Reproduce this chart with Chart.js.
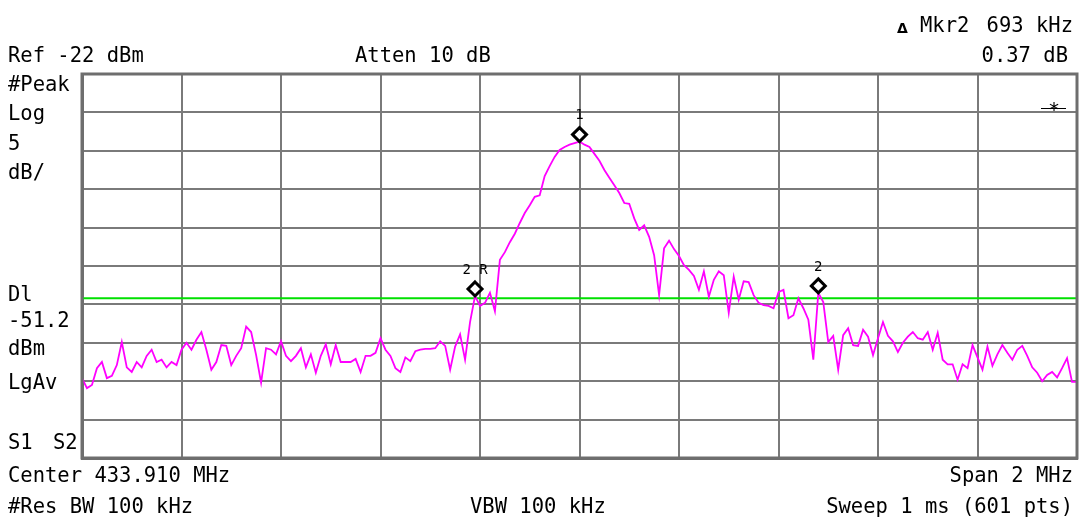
<!DOCTYPE html>
<html>
<head>
<meta charset="utf-8">
<script src="https://cdn.jsdelivr.net/npm/chart.js@4/dist/chart.umd.min.js"></script>
<style>
  html, body { margin: 0; padding: 0; background: #fff; }
  #wrap { position: relative; width: 1079px; height: 518px; overflow: hidden; }
  #sa { position: absolute; left: 0; top: 0; }
  .t { position: absolute; font-family: "DejaVu Sans Mono", monospace; font-size: 20.5px;
       line-height: 20px; color: #000; white-space: pre; }
</style>
</head>
<body>
<div id="wrap">
  <canvas id="sa" width="1079" height="518"></canvas>
  <div class="t" style="left:897px;top:18px;font-family:'DejaVu Sans';font-weight:bold;font-size:14px;">Δ</div>
  <div class="t" style="left:920px;top:15px;">Mkr2</div>
  <div class="t" style="right:6px;top:15px;">693 kHz</div>
  <div class="t" style="left:8px;top:45px;">Ref -22 dBm</div>
  <div class="t" style="left:355px;top:45px;">Atten 10 dB</div>
  <div class="t" style="right:11px;top:45px;">0.37 dB</div>
  <div class="t" style="left:8px;top:74px;">#Peak</div>
  <div class="t" style="left:8px;top:103px;">Log</div>
  <div class="t" style="left:8px;top:133px;">5</div>
  <div class="t" style="left:8px;top:162px;">dB/</div>
  <div class="t" style="left:8px;top:284px;">Dl</div>
  <div class="t" style="left:8px;top:310px;">-51.2</div>
  <div class="t" style="left:8px;top:338px;">dBm</div>
  <div class="t" style="left:8px;top:372px;">LgAv</div>
  <div class="t" style="left:8px;top:432px;">S1</div>
  <div class="t" style="left:53px;top:432px;">S2</div>
  <div class="t" style="left:8px;top:465px;">Center 433.910 MHz</div>
  <div class="t" style="right:6px;top:465px;">Span 2 MHz</div>
  <div class="t" style="left:8px;top:496px;">#Res BW 100 kHz</div>
  <div class="t" style="left:470px;top:496px;">VBW 100 kHz</div>
  <div class="t" style="right:6px;top:496px;">Sweep 1 ms (601 pts)</div>
</div>
<script>
// sweep: center 433.910 MHz, span 2 MHz -> offsets in kHz, one reading every 10 kHz
const spanStartKHz = -1000;
const stepKHz = 10;

// trace level (dBm)
const levelDbm = [
  -61.6, -62.9, -62.5, -60.3, -59.5, -61.6, -61.3, -59.9, -56.9, -60.2,
  -60.8, -59.5, -60.2, -58.7, -57.9, -59.5, -59.2, -60.2, -59.5, -59.9,
  -57.9, -57.0, -57.9, -56.6, -55.6, -57.9, -60.5, -59.5, -57.3, -57.4,
  -59.9, -58.7, -57.7, -54.9, -55.6, -58.6, -62.2, -57.7, -57.9, -58.5,
  -56.8, -58.7, -59.4, -58.7, -57.7, -60.2, -58.5, -60.9, -58.7, -57.2,
  -59.8, -57.3, -59.5, -59.5, -59.5, -59.1, -60.8, -58.7, -58.7, -58.3,
  -56.4, -57.9, -58.7, -60.3, -60.8, -58.9, -59.4, -58.1, -57.9, -57.8,
  -57.8, -57.7, -56.8, -57.4, -60.5, -57.5, -55.9, -59.2, -54.3, -50.9,
  -52.2, -51.8, -50.5, -52.9, -46.2, -45.2, -43.9, -42.8, -41.4, -40.1,
  -39.1, -38.0, -37.8, -35.3, -34.0, -32.8, -31.9, -31.5, -31.2, -31.0,
  -30.8, -31.2, -31.5, -32.4, -33.3, -34.5, -35.5, -36.5, -37.5, -38.8,
  -38.9, -40.8, -42.3, -41.7, -43.2, -45.6, -50.8, -44.7, -43.7, -44.8,
  -45.7, -46.9, -47.5, -48.3, -50.1, -47.7, -51.0, -48.8, -47.7, -48.2,
  -53.1, -48.4, -51.4, -49.0, -49.1, -50.8, -51.8, -52.1, -52.2, -52.5,
  -50.4, -50.1, -53.8, -53.4, -51.2, -52.5, -54.0, -59.2, -50.5, -51.7,
  -56.9, -56.1, -60.5, -56.0, -55.1, -57.3, -57.4, -55.3, -56.2, -58.6,
  -56.4, -54.3, -56.1, -56.8, -58.2, -57.0, -56.2, -55.6, -56.4, -56.6,
  -55.6, -57.9, -55.7, -59.2, -59.8, -59.8, -61.8, -59.8, -60.3, -57.3,
  -58.9, -60.5, -57.5, -60.0, -58.5, -57.3, -58.3, -59.2, -57.9, -57.4,
  -58.7, -60.2, -60.9, -62.0, -61.2, -60.8, -61.5, -60.3, -59.0, -62.1,
  -62.1
];

const refLevelDbm = -22;
const dbPerDiv = 5;
const displayLineDbm = -51.2;

// markers: label + trace index
const markerNames = ['1', '2 R', '2'];
const markerIndex = [100, 79, 148];

const freqKHz = levelDbm.map((v, i) => spanStartKHz + i * stepKHz);
const trace = levelDbm.map((v, i) => ({ x: freqKHz[i], y: v }));

const frame = {
    id: 'frame',
    afterDatasetsDraw(chart) {
        const { ctx, chartArea: a, scales } = chart;
        ctx.save();
        ctx.strokeStyle = '#6e6e6e';
        ctx.lineWidth = 3;
        ctx.strokeRect(a.left, a.top, a.right - a.left, a.bottom - a.top);

        // markers: diamond sitting on the trace, number above it
        const ds = chart.data.datasets[0].data;
        markerIndex.forEach((idx, k) => {
            const px = scales.x.getPixelForValue(ds[idx].x);
            const py = scales.y.getPixelForValue(ds[idx].y) - 7;
            ctx.beginPath();
            ctx.moveTo(px, py - 7);
            ctx.lineTo(px + 7, py);
            ctx.lineTo(px, py + 7);
            ctx.lineTo(px - 7, py);
            ctx.closePath();
            ctx.fillStyle = '#fff';
            ctx.fill();
            ctx.strokeStyle = '#000';
            ctx.lineWidth = 3;
            ctx.stroke();
            ctx.fillStyle = '#000';
            ctx.font = '14px "DejaVu Sans Mono"';
            ctx.textAlign = 'center';
            ctx.textBaseline = 'middle';
            ctx.fillText(markerNames[k], px, py - 19);
        });

        // ref level mark, top right
        ctx.strokeStyle = '#000';
        ctx.lineWidth = 1;
        ctx.beginPath();
        ctx.moveTo(1041, 108.5);
        ctx.lineTo(1066, 108.5);
        ctx.stroke();
        ctx.font = '20px "DejaVu Sans Mono"';
        ctx.fillStyle = '#000';
        ctx.textAlign = 'center';
        ctx.textBaseline = 'alphabetic';
        ctx.fillText('*', 1054, 116);
        ctx.restore();
    }
};

new Chart(document.getElementById('sa'), {
    type: 'line',
    data: {
        datasets: [{
            data: trace,
            borderColor: '#ff00ff',
            borderWidth: 1.8,
            pointRadius: 0,
            tension: 0
        }, {
            data: [{ x: spanStartKHz, y: displayLineDbm }, { x: -spanStartKHz, y: displayLineDbm }],
            borderColor: '#00e000',
            borderWidth: 2,
            pointRadius: 0
        }]
    },
    options: {
        responsive: false,
        devicePixelRatio: 1,
        animation: false,
        layout: { padding: { left: 82, top: 74, right: 2, bottom: 60 } },
        plugins: { legend: { display: false }, tooltip: { enabled: false } },
        scales: {
            x: {
                type: 'linear',
                min: spanStartKHz,
                max: -spanStartKHz,
                ticks: { display: false, stepSize: 200 },
                grid: { color: '#7a7a7a', lineWidth: 2, drawTicks: false },
                border: { color: '#6e6e6e', width: 3 }
            },
            y: {
                min: refLevelDbm - 10 * dbPerDiv,
                max: refLevelDbm,
                ticks: { display: false, stepSize: dbPerDiv },
                grid: { color: '#7a7a7a', lineWidth: 2, drawTicks: false },
                border: { color: '#6e6e6e', width: 3 }
            }
        }
    },
    plugins: [frame]
});
</script>
</body>
</html>
